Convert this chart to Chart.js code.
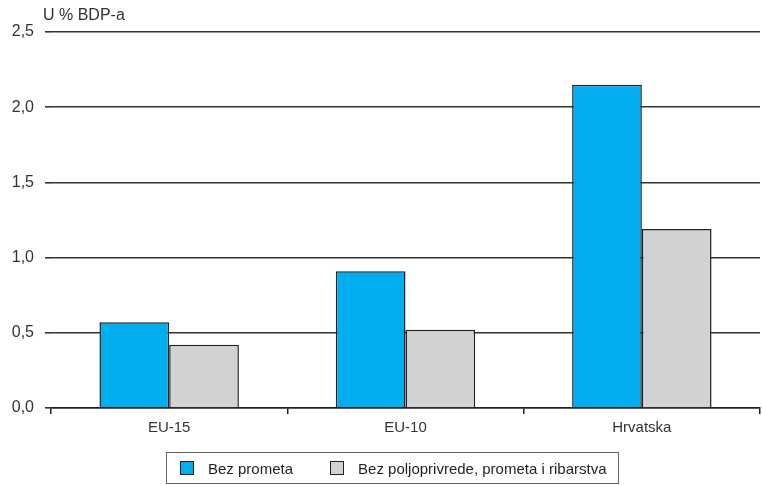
<!DOCTYPE html>
<html>
<head>
<meta charset="utf-8">
<script src="https://cdn.jsdelivr.net/npm/chart.js@4"></script>
<style>
    body { margin: 0; background: #fff; }
    #wrap { position: relative; width: 762px; height: 485px; }
    #legend {
        position: absolute; left: 166px; top: 452px; width: 451px; height: 30px;
        border: 1px solid #666; display: flex; align-items: center; white-space: nowrap;
        font-family: "Liberation Sans", Arial, sans-serif; font-size: 15px; color: #231f20;
    }
    #legend span.item { display: flex; align-items: center; margin-left: 13px; margin-right: 24px; }
    #legend i { display: inline-block; width: 12px; height: 12px; border: 1px solid #231f20; margin-right: 14px; }
</style>
</head>
<body>
<div id="wrap">
    <canvas id="chart" width="762" height="485"></canvas>
    <div id="legend"></div>
</div>
<script>
var categories = ["EU-15", "EU-10", "Hrvatska"];
var seriesNames = ["Bez prometa", "Bez poljoprivrede, prometa i ribarstva"];
var bezPrometa = [0.57, 0.91, 2.15];
var bezPoljoprivrede = [0.42, 0.52, 1.19];
var yTicks = [0, 0.5, 1.0, 1.5, 2.0, 2.5];
var unitLabel = "U % BDP-a";

var colors = ["#00aeef", "#d1d2d4"];
var fontFamily = '"Liberation Sans", Arial, sans-serif';
var ink = "#231f20";
var textInk = "#333";

var unitPlugin = {
    id: "unitLabel",
    afterDraw: function (chart) {
        var ctx = chart.ctx;
        ctx.save();
        ctx.font = "16px " + fontFamily;
        ctx.fillStyle = textInk;
        ctx.textBaseline = "alphabetic";
        ctx.fillText(unitLabel, 43, 20);
        ctx.restore();
    }
};

var chart = new Chart(document.getElementById("chart"), {
    type: "bar",
    data: {
        labels: categories,
        datasets: [
            { label: seriesNames[0], data: bezPrometa, backgroundColor: colors[0], borderColor: ink, borderWidth: 1.5 },
            { label: seriesNames[1], data: bezPoljoprivrede, backgroundColor: colors[1], borderColor: ink, borderWidth: 1.5 }
        ]
    },
    plugins: [unitPlugin],
    options: {
        responsive: false,
        animation: false,
        layout: { padding: { top: 32, right: 2, bottom: 43, left: 0 } },
        plugins: {
            legend: { display: false },
            tooltip: { enabled: false }
        },
        datasets: {
            bar: { categoryPercentage: 0.59, barPercentage: 1.0 }
        },
        scales: {
            x: {
                offset: true,
                grid: { display: true, drawOnChartArea: false, offset: true, tickLength: 6, color: ink, lineWidth: 1.5 },
                border: { display: true, color: ink, width: 1.5 },
                ticks: { color: textInk, font: { family: fontFamily, size: 15 }, padding: 5 }
            },
            y: {
                min: 0,
                max: 2.5,
                afterBuildTicks: function (scale) {
                    scale.ticks = yTicks.map(function (v) { return { value: v }; });
                },
                afterFit: function (scale) { scale.width = 51; },
                grid: { color: "#333", lineWidth: 1.6, tickLength: 6 },
                border: { display: false },
                ticks: {
                    color: textInk,
                    font: { family: fontFamily, size: 16 },
                    padding: 11,
                    callback: function (v) { return Number(v).toFixed(1).replace(".", ","); }
                }
            }
        }
    }
});

var legendEl = document.getElementById("legend");
chart.data.datasets.forEach(function (ds) {
    var item = document.createElement("span");
    item.className = "item";
    item.innerHTML = '<i style="background:' + ds.backgroundColor + '"></i>' + ds.label;
    legendEl.appendChild(item);
});
</script>
</body>
</html>
